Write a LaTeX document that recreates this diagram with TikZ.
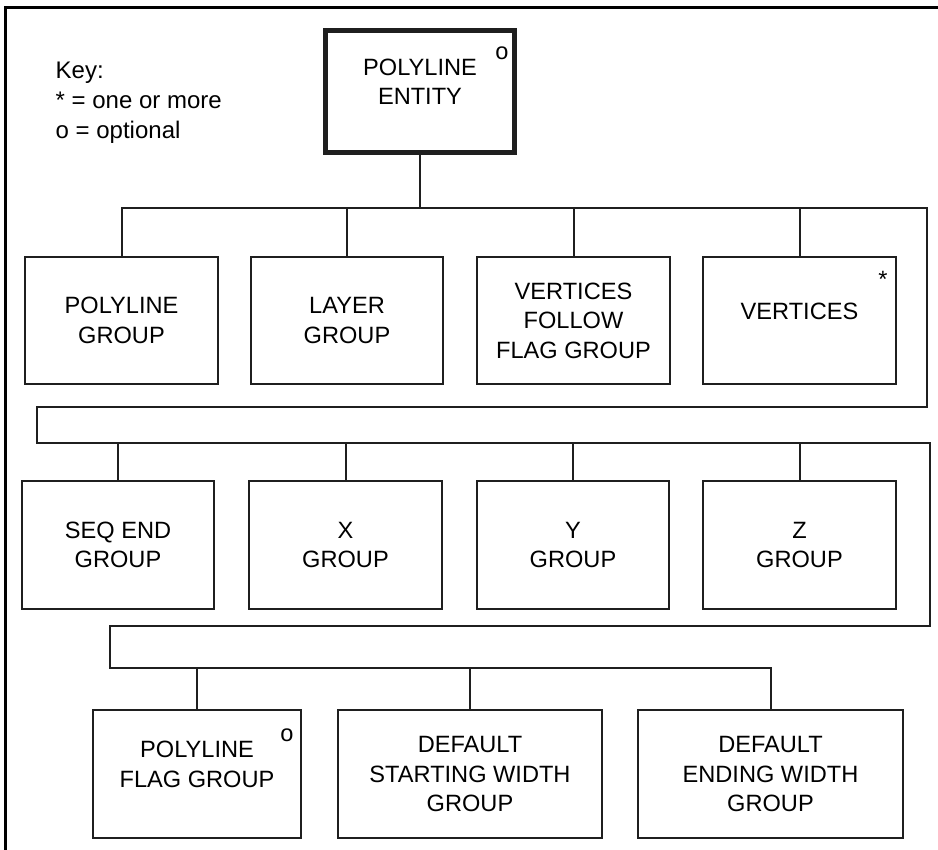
\documentclass[tikz,border=0pt]{standalone}
\usepackage{fontspec}
\setmainfont{Liberation Sans}
\begin{document}
\begin{tikzpicture}[x=1pt,y=-1pt,
  box/.style={draw=black!88,line width=2pt,rectangle,align=center,inner sep=0pt,
    font=\fontsize{23.6}{29.5}\selectfont},
  topbox/.style={box,line width=5pt},
  symb/.style={inner sep=0pt,font=\fontsize{23.6}{29.5}\selectfont},
  conn/.style={draw=black!88,line width=2pt}]
\useasboundingbox (0,0) rectangle (938,850);
% frame
\draw[line width=3pt] (5.5,850) -- (5.5,7.5) -- (938,7.5);
% key
\node[anchor=north west,inner sep=0pt,align=left,font=\fontsize{24}{30}\selectfont] (key) at (55.5,62) {Key:\\* = one or more\\o = optional};
% top
\node[topbox,minimum width=189pt,minimum height=122pt,text height=26.5pt] (top) at (420,91.5) {POLYLINE\\ENTITY};
\node[symb] (otop) at (502,53) {o};
% row 1
\node[box,minimum width=193pt,minimum height=127pt] (pg) at (121.5,320.5) {POLYLINE\\GROUP};
\node[box,minimum width=192pt,minimum height=127pt] (lg) at (347,320.5) {LAYER\\GROUP};
\node[box,minimum width=193pt,minimum height=127pt] (vf) at (573.5,320.5) {VERTICES\\FOLLOW\\FLAG GROUP};
\node[box,minimum width=193pt,minimum height=127pt,text depth=18pt] (vx) at (799.5,320.5) {VERTICES};
\node[symb,anchor=north] (star) at (883,271) {*};
% row 2
\node[box,minimum width=192pt,minimum height=128pt] (se) at (118,545) {SEQ END\\GROUP};
\node[box,minimum width=193pt,minimum height=128pt] (xg) at (345.5,545) {X\\GROUP};
\node[box,minimum width=192pt,minimum height=128pt] (yg) at (573,545) {Y\\GROUP};
\node[box,minimum width=193pt,minimum height=128pt] (zg) at (799.5,545) {Z\\GROUP};
% row 3
\node[box,minimum width=208pt,minimum height=128pt,text height=26.5pt] (pf) at (197,774) {POLYLINE\\FLAG GROUP};
\node[symb] (opf) at (287,735) {o};
\node[box,minimum width=264pt,minimum height=128pt] (ds) at (470,774) {DEFAULT\\STARTING WIDTH\\GROUP};
\node[box,minimum width=265pt,minimum height=128pt] (de) at (770.5,774) {DEFAULT\\ENDING WIDTH\\GROUP};
% bus coordinates
\coordinate (b1) at (0,208);
\coordinate (b1r) at (927,208);
\coordinate (r1) at (927,407);
\coordinate (l1) at (37,407);
\coordinate (b2l) at (37,443);
\coordinate (b2r) at (930,443);
\coordinate (r2) at (930,626);
\coordinate (l2) at (110,626);
\coordinate (b3l) at (110,668);
\coordinate (b3) at (0,668);
% connectors row 1
\draw[conn] (top.south) -- (top.south |- b1);
\draw[conn] (pg.north) -- (pg.north |- b1) -- (b1r) -- (r1) -- (l1) -- (b2l) -- (b2r) -- (r2) -- (l2) -- (b3l) -- (de.north |- b3) -- (de.north);
\draw[conn] (lg.north) -- (lg.north |- b1);
\draw[conn] (vf.north) -- (vf.north |- b1);
\draw[conn] (vx.north) -- (vx.north |- b1);
% row 2
\draw[conn] (se.north) -- (se.north |- b2l);
\draw[conn] (xg.north) -- (xg.north |- b2l);
\draw[conn] (yg.north) -- (yg.north |- b2l);
\draw[conn] (zg.north) -- (zg.north |- b2l);
% row 3
\draw[conn] (pf.north) -- (pf.north |- b3);
\draw[conn] (ds.north) -- (ds.north |- b3);
\end{tikzpicture}
\end{document}
